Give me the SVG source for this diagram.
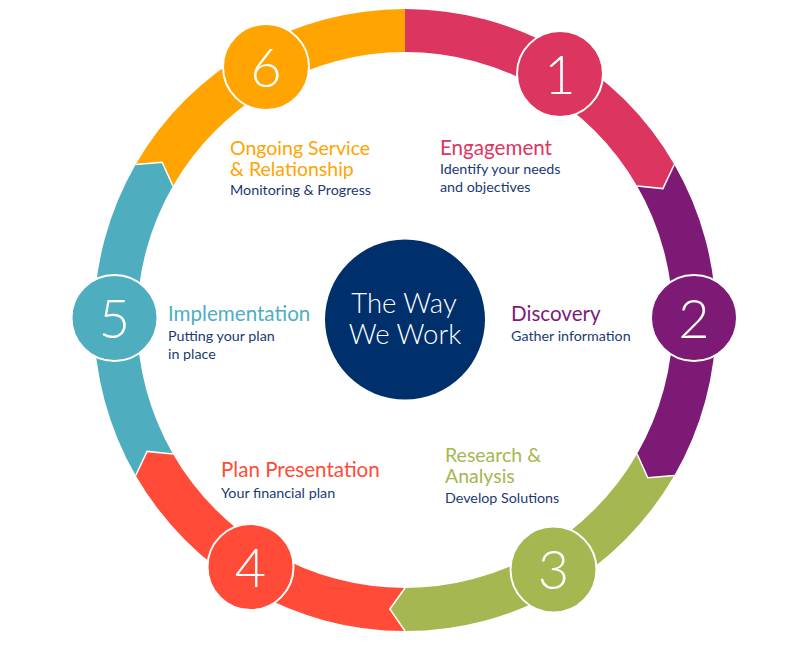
<svg xmlns="http://www.w3.org/2000/svg" width="791" height="645" viewBox="0 0 791 645">
<style>
.seg{stroke:none}
.sep{fill:none;stroke:#fff;stroke-width:1.5;stroke-linejoin:miter}
.node{stroke:#fff;stroke-width:2}
.num{font-family:Lato,"Liberation Sans",sans-serif;font-weight:300;font-size:54px;fill:#fff;text-anchor:middle}
.ttl{font-family:Lato,"Liberation Sans",sans-serif;font-size:20.6px}
.ttl2{font-family:Lato,"Liberation Sans",sans-serif;font-size:19.5px}
.sub{font-family:Lato,"Liberation Sans",sans-serif;font-size:14.3px;fill:#1B3A73}
.ctr{font-family:Lato,"Liberation Sans",sans-serif;font-weight:300;font-size:27.5px;fill:#fff;text-anchor:middle}
</style>
<rect width="791" height="645" fill="#fff"/>
<g id="ring">
<path id="seg1" class="seg" fill="#DC3660" d="M405,9 A311,311 0 0 1 674.3,164.5 L662.9,188.6 L637.1,186 A268,268 0 0 0 405,52 Z"/>
<path id="seg2" class="seg" fill="#7D1A76" d="M674.3,164.5 A311,311 0 0 1 674.3,475.5 L647.8,477.7 L637.1,454 A268,268 0 0 0 637.1,186 L662.9,188.6 Z"/>
<path id="seg3" class="seg" fill="#A4B751" d="M674.3,475.5 A311,311 0 0 1 405,631 L389.9,609.1 L405,588 A268,268 0 0 0 637.1,454 L647.8,477.7 Z"/>
<path id="seg4" class="seg" fill="#FF4B37" d="M405,631 A311,311 0 0 1 135.7,475.5 L147.1,451.4 L172.9,454 A268,268 0 0 0 405,588 L389.9,609.1 Z"/>
<path id="seg5" class="seg" fill="#4EAEBF" d="M135.7,475.5 A311,311 0 0 1 135.7,164.5 L162.2,162.3 L172.9,186 A268,268 0 0 0 172.9,454 L147.1,451.4 Z"/>
<path id="seg6" class="seg" fill="#FFA400" d="M135.7,164.5 A311,311 0 0 1 405,9 L405,52 A268,268 0 0 0 172.9,186 L162.2,162.3 Z"/>
</g>
<g id="connectors">
<polyline class="sep" points="674.3,164.5 662.9,188.6 637.1,186"/>
<polyline class="sep" points="674.3,475.5 647.8,477.7 637.1,454"/>
<polyline class="sep" points="405,631 389.9,609.1 405,588"/>
<polyline class="sep" points="135.7,475.5 147.1,451.4 172.9,454"/>
<polyline class="sep" points="135.7,164.5 162.2,162.3 172.9,186"/>
</g>
<g id="center">
<circle cx="405" cy="319.5" r="80" fill="#00306B"/>
<text class="ctr" x="404" y="313">The Way</text>
<text class="ctr" x="405" y="344">We Work</text>
</g>
<g id="node1">
<circle class="node" cx="560" cy="74" r="43" fill="#DC3660"/>
<text class="num" x="560" y="93.5">1</text>
<text class="ttl" x="440" y="155" fill="#DC3660">Engagement</text>
<text class="sub" x="440" y="174">Identify your needs</text>
<text class="sub" x="440" y="191.5">and objectives</text>
</g>
<g id="node2">
<circle class="node" cx="694" cy="318" r="43" fill="#7D1A76"/>
<text class="num" x="694" y="337.5">2</text>
<text class="ttl" x="511" y="321" fill="#7D1A76">Discovery</text>
<text class="sub" x="511" y="340.5">Gather information</text>
</g>
<g id="node3">
<circle class="node" cx="553.5" cy="569.5" r="43" fill="#A4B751"/>
<text class="num" x="553.5" y="589">3</text>
<text class="ttl2" x="445" y="462" fill="#A4B751">Research &amp;</text>
<text class="ttl2" x="445" y="483" fill="#A4B751">Analysis</text>
<text class="sub" x="445" y="503">Develop Solutions</text>
</g>
<g id="node4">
<circle class="node" cx="250.5" cy="567" r="43" fill="#FF4B37"/>
<text class="num" x="250.5" y="586.5">4</text>
<text class="ttl" x="221" y="477" fill="#FF4B37">Plan Presentation</text>
<text class="sub" x="221" y="498">Your financial plan</text>
</g>
<g id="node5">
<circle class="node" cx="114.5" cy="318" r="43" fill="#4EAEBF"/>
<text class="num" x="114.5" y="337.5">5</text>
<text class="ttl" x="168" y="321" fill="#4EAEBF">Implementation</text>
<text class="sub" x="168" y="340.5">Putting your plan</text>
<text class="sub" x="168" y="358.5">in place</text>
</g>
<g id="node6">
<circle class="node" cx="266" cy="67" r="43" fill="#FFA400"/>
<text class="num" x="266" y="86.5">6</text>
<text class="ttl2" x="230" y="155" fill="#FFA400">Ongoing Service</text>
<text class="ttl2" x="230" y="176" fill="#FFA400">&amp; Relationship</text>
<text class="sub" x="230" y="195">Monitoring &amp; Progress</text>
</g>
</svg>
